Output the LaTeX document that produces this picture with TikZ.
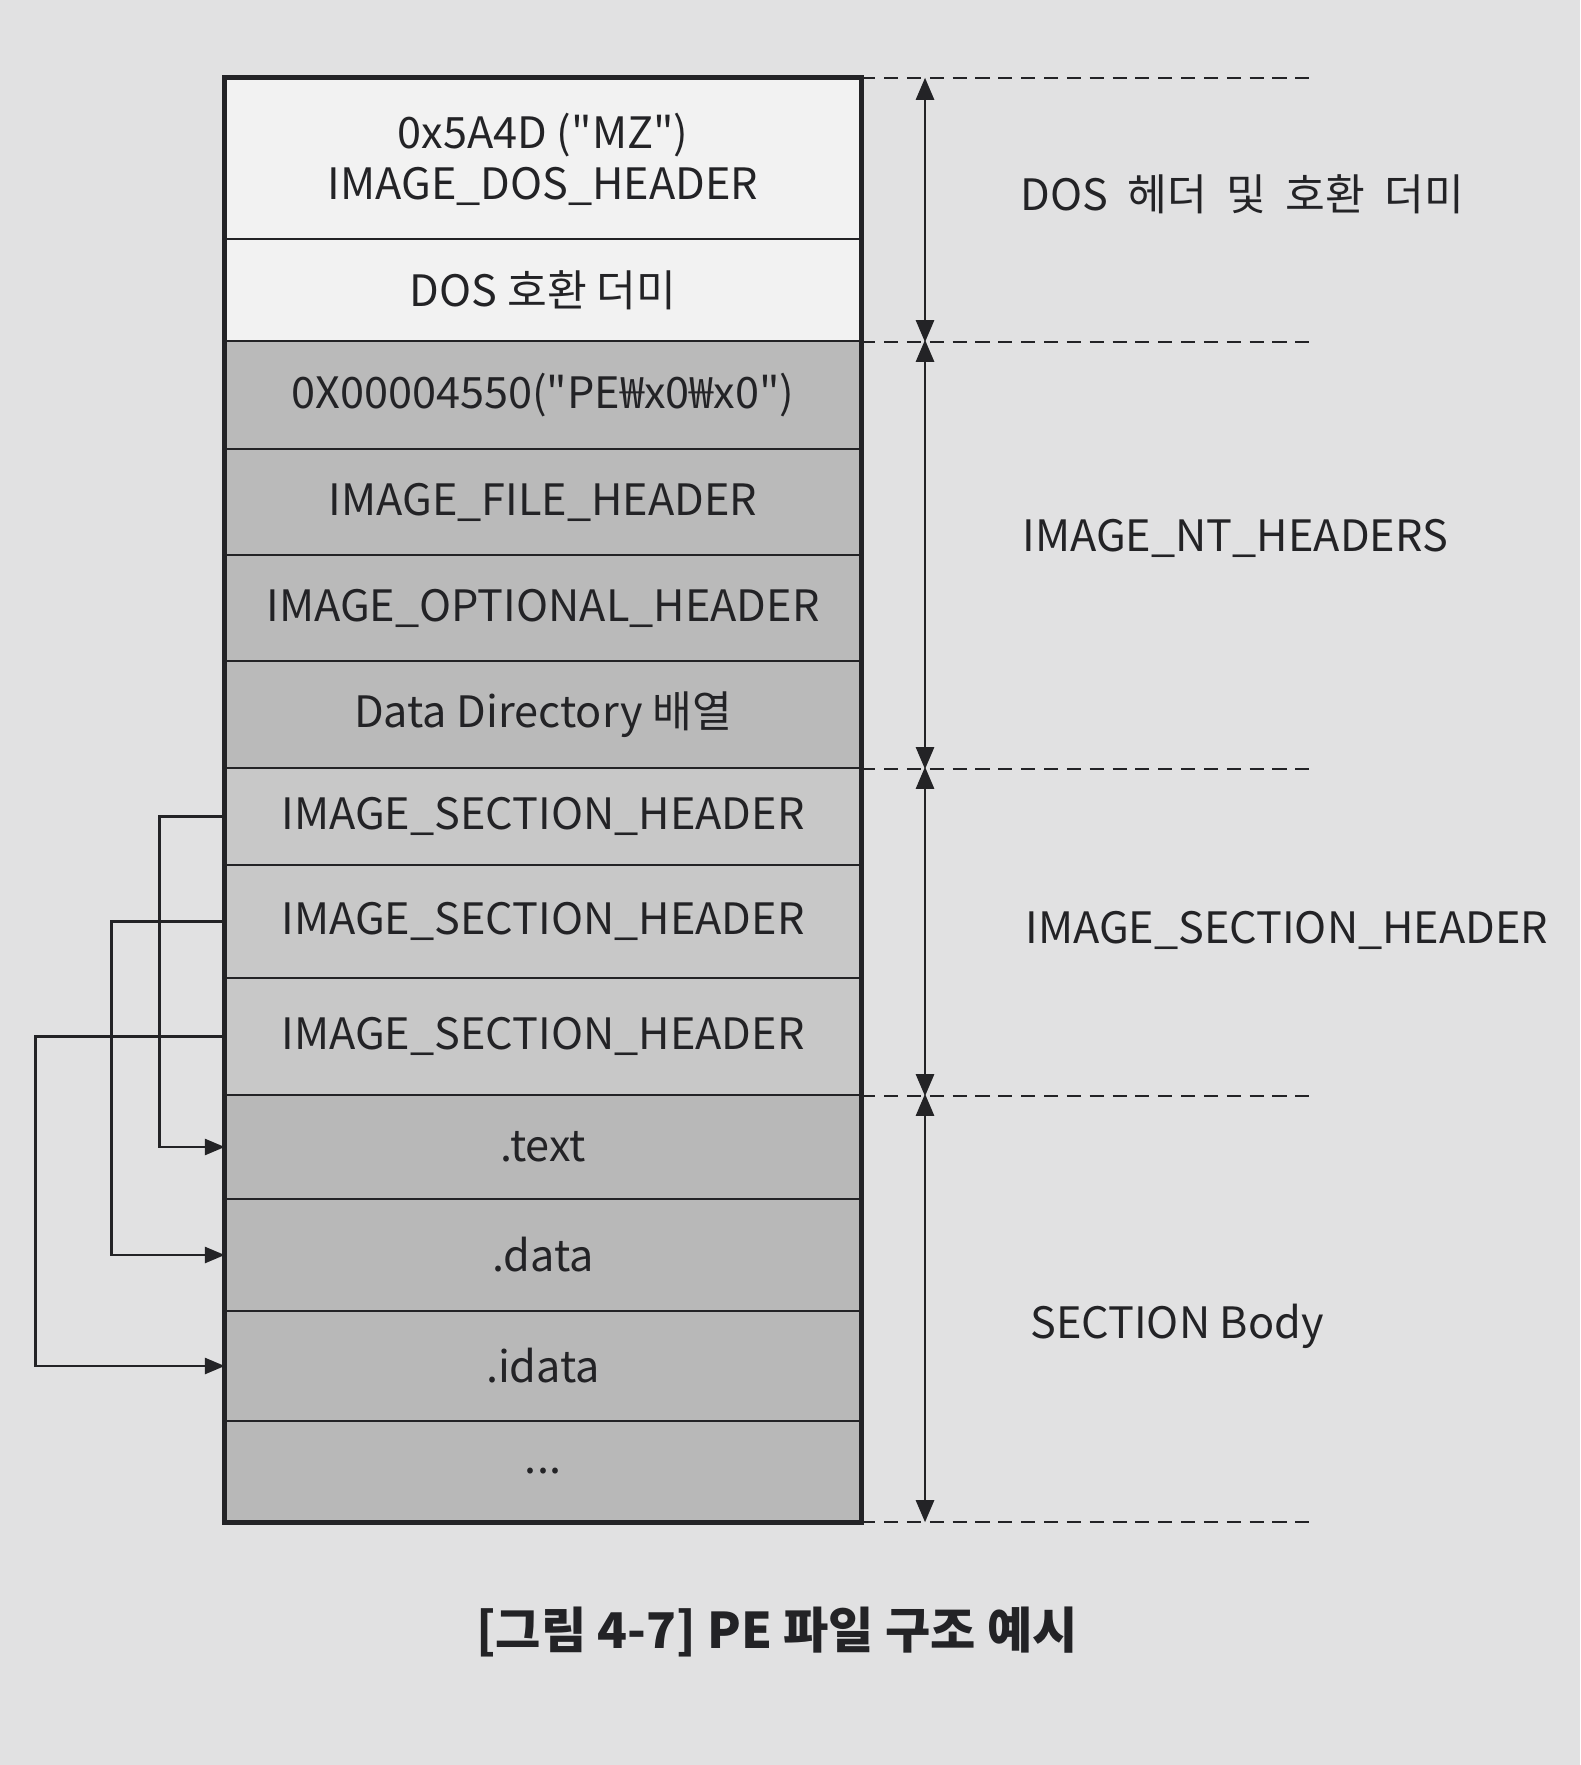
\documentclass[tikz,border=0pt]{standalone}
\usepackage{fontspec}
\setmainfont{Noto Sans CJK KR}
\usetikzlibrary{arrows.meta,positioning,calc}

\definecolor{paper}{RGB}{225,225,226}
\definecolor{lightrow}{RGB}{242,242,242}
\definecolor{ntrow}{RGB}{186,186,186}
\definecolor{ishrow}{RGB}{200,200,200}
\definecolor{secrow}{RGB}{184,184,184}
\definecolor{ink}{RGB}{35,35,38}

\begin{document}
\begin{tikzpicture}[
  row/.style={draw=ink, line width=0.7pt, minimum width=6.34cm, inner sep=0pt, align=center, text=ink, font=\fontsize{12.3}{14.5}\selectfont},
  side/.style={anchor=west, text=ink, font=\fontsize{12.3}{14.5}\selectfont},
  guide/.style={draw=ink, line width=0.6pt, dash pattern=on 4pt off 2.5pt},
  span/.style={draw=ink, line width=0.7pt, {Triangle[length=2.2mm,width=1.8mm]}-{Triangle[length=2.2mm,width=1.8mm]}},
  link/.style={draw=ink, line width=0.8pt, -{Triangle[length=2mm,width=1.6mm]}},
]
\fill[paper] (0,0) rectangle (15.8,-17.65);
\useasboundingbox (0,0) rectangle (15.8,-17.65);
% DOS header and stub
\node[row, fill=lightrow, minimum height=1.60cm] (dos) at (5.43,-1.59) {0x5A4D (\textquotedbl MZ\textquotedbl)\\IMAGE\_DOS\_HEADER};
\node[row, fill=lightrow, minimum height=1.02cm] (stub) at (5.43,-2.90) {DOS 호환 더미};
% NT headers
\node[row, fill=ntrow, minimum height=1.08cm] (sig) at (5.43,-3.95) {0X00004550(\textquotedbl PE₩x0₩x0\textquotedbl)};
\node[row, fill=ntrow, minimum height=1.06cm] (filehdr) at (5.43,-5.02) {IMAGE\_FILE\_HEADER};
\node[row, fill=ntrow, minimum height=1.06cm] (opthdr) at (5.43,-6.08) {IMAGE\_OPTIONAL\_HEADER};
\node[row, fill=ntrow, minimum height=1.07cm] (datadir) at (5.43,-7.145) {Data Directory 배열};
% Section headers
\node[row, fill=ishrow, minimum height=0.97cm] (ish1) at (5.43,-8.165) {IMAGE\_SECTION\_HEADER};
\node[row, fill=ishrow, minimum height=1.13cm] (ish2) at (5.43,-9.215) {IMAGE\_SECTION\_HEADER};
\node[row, fill=ishrow, minimum height=1.17cm] (ish3) at (5.43,-10.365) {IMAGE\_SECTION\_HEADER};
% Section bodies
\node[row, fill=secrow, minimum height=1.04cm] (text) at (5.43,-11.47) {.text};
\node[row, fill=secrow, minimum height=1.12cm] (data) at (5.43,-12.55) {.data};
\node[row, fill=secrow, minimum height=1.10cm] (idata) at (5.43,-13.66) {.idata};
\node[row, fill=secrow, minimum height=1.00cm] (more) at (5.43,-14.71) {...};
% Outer frame
\draw[ink, line width=1.3pt] (dos.north west) rectangle (more.south east);
% Header to body links
\draw[link] (ish1.west) -- ++(-0.65,0) |- (text.west);
\draw[link] (ish2.west) -- ++(-1.13,0) |- (data.west);
\draw[link] (ish3.west) -- ++(-1.89,0) |- (idata.west);
% Guides and spans
\coordinate (edge) at (13.1,0);
\coordinate (axis) at (9.25,0);
\draw[guide] (dos.north east) -- (dos.north east -| edge);
\draw[guide] (stub.south east) -- (stub.south east -| edge);
\draw[guide] (datadir.south east) -- (datadir.south east -| edge);
\draw[guide] (ish3.south east) -- (ish3.south east -| edge);
\draw[guide] (more.south east) -- (more.south east -| edge);
\draw[span] (dos.north east -| axis) -- (stub.south east -| axis);
\draw[span] (sig.north east -| axis) -- (datadir.south east -| axis);
\draw[span] (ish1.north east -| axis) -- (ish3.south east -| axis);
\draw[span] (text.north east -| axis) -- (more.south east -| axis);
% Right labels
\node[side] (doslbl) at (10.08,-1.94) {DOS\hspace{0.45em}헤더\hspace{0.45em}및\hspace{0.45em}호환\hspace{0.45em}더미};
\node[side] (ntlbl) at (10.10,-5.38) {IMAGE\_NT\_HEADERS};
\node[side] (ishlbl) at (10.13,-9.30) {IMAGE\_SECTION\_HEADER};
\node[side] (seclbl) at (10.18,-13.26) {SECTION Body};
% Caption
\node[text=ink, font=\bfseries\fontsize{14}{16}\selectfont] (caption) at (7.77,-16.32) {[그림 4-7] PE 파일 구조 예시};
\end{tikzpicture}
\end{document}
